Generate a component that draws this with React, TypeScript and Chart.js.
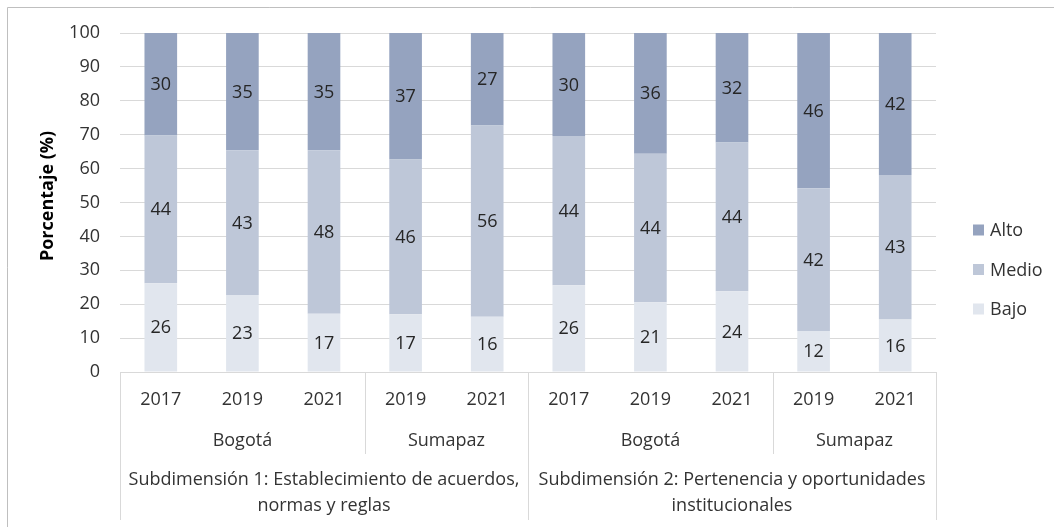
import React, { useEffect, useRef } from "react";
import { Chart, registerables } from "chart.js";

Chart.register(...registerables);

const categories = ["2017", "2019", "2021", "2019", "2021", "2017", "2019", "2021", "2019", "2021"];
const locationLabels = ["Bogotá", "Sumapaz", "Bogotá", "Sumapaz"];
const locationSpans = [3, 2, 3, 2];
const subdimensionLabels = [
  ["Subdimensión 1: Establecimiento de acuerdos,", "normas y reglas"],
  ["Subdimensión 2: Pertenencia y oportunidades", "institucionales"],
];
const subdimensionSpans = [5, 5];

const bajo = [26.2, 22.7, 17.2, 17.0, 16.3, 25.6, 20.6, 23.8, 12.1, 15.5];
const medio = [43.6, 42.7, 48.2, 45.7, 56.4, 44.0, 43.8, 43.9, 42.1, 42.6];
const alto = [30.2, 34.6, 34.6, 37.3, 27.3, 30.4, 35.6, 32.3, 45.8, 41.9];

const yTicks = [0, 10, 20, 30, 40, 50, 60, 70, 80, 90, 100];

const FONT = "'Open Sans', sans-serif";
const TEXT = "#333333";
const SEP = "#d9d9d9";

const customPlugin = {
  id: "custom",
  afterDatasetsDraw(chart: any) {
    const ctx = chart.ctx;
    ctx.save();
    ctx.font = `18px ${FONT}`;
    ctx.fillStyle = "#262626";
    ctx.textAlign = "center";
    ctx.textBaseline = "middle";
    chart.data.datasets.forEach((ds: any, di: number) => {
      const meta = chart.getDatasetMeta(di);
      meta.data.forEach((el: any, i: number) => {
        const v = ds.data[i];
        const y = (el.y + el.base) / 2;
        ctx.fillText(String(Math.round(v)), el.x, y + 1);
      });
    });
    ctx.restore();
  },
  afterDraw(chart: any) {
    const ctx = chart.ctx;
    const area = chart.chartArea;
    const xs = chart.scales.x;
    const n = categories.length;
    const boundary = (i: number) => {
      if (i <= 0) return area.left;
      if (i >= n) return area.right;
      return (xs.getPixelForValue(i - 1) + xs.getPixelForValue(i)) / 2;
    };
    const bottom = 520;
    const locBottom = 454;
    ctx.save();
    // outer frame (cropped)
    ctx.strokeStyle = "#bfbfbf";
    ctx.lineWidth = 1;
    ctx.beginPath();
    ctx.moveTo(7.5, chart.height);
    ctx.lineTo(7.5, 7.5);
    ctx.lineTo(chart.width, 7.5);
    ctx.stroke();

    // category separators
    ctx.strokeStyle = SEP;
    const vline = (x: number, y2: number) => {
      const xx = Math.round(x) + 0.5;
      ctx.beginPath();
      ctx.moveTo(xx, area.bottom);
      ctx.lineTo(xx, y2);
      ctx.stroke();
    };
    vline(area.left, bottom);
    vline(area.right, bottom);
    let idx = 0;
    locationSpans.forEach((s) => {
      idx += s;
      if (idx < n) vline(boundary(idx), locBottom);
    });
    idx = 0;
    subdimensionSpans.forEach((s) => {
      idx += s;
      if (idx < n) vline(boundary(idx), bottom);
    });

    // labels
    ctx.fillStyle = TEXT;
    ctx.font = `18px ${FONT}`;
    ctx.textAlign = "center";
    ctx.textBaseline = "middle";
    categories.forEach((c, i) => {
      ctx.fillText(c, xs.getPixelForValue(i), 400);
    });
    idx = 0;
    locationLabels.forEach((l, k) => {
      const a = boundary(idx);
      idx += locationSpans[k];
      const b = boundary(idx);
      ctx.fillText(l, (a + b) / 2, 441);
    });
    idx = 0;
    subdimensionLabels.forEach((lines, k) => {
      const a = boundary(idx);
      idx += subdimensionSpans[k];
      const b = boundary(idx);
      lines.forEach((t, j) => {
        ctx.fillText(t, (a + b) / 2, 480 + j * 26);
      });
    });

    // y axis title
    ctx.save();
    ctx.translate(48, 196);
    ctx.rotate(-Math.PI / 2);
    ctx.font = `bold 18px ${FONT}`;
    ctx.fillStyle = "#000000";
    ctx.fillText("Porcentaje (%)", 0, 0);
    ctx.restore();

    // legend (reversed)
    const ds = chart.data.datasets.slice().reverse();
    ctx.textAlign = "left";
    ctx.font = `18px ${FONT}`;
    ds.forEach((d: any, k: number) => {
      const cy = 230 + k * 39.5;
      ctx.fillStyle = d.backgroundColor;
      ctx.fillRect(973, cy - 5.5, 11, 11);
      ctx.fillStyle = TEXT;
      ctx.fillText(d.label, 990, cy + 1);
    });
    ctx.restore();
  },
};

export default function App() {
  const ref = useRef<HTMLCanvasElement | null>(null);
  useEffect(() => {
    document.body.style.margin = "0";
    const canvas = ref.current!;
    const chart = new Chart(canvas, {
      type: "bar",
      data: {
        labels: categories,
        datasets: [
          { label: "Bajo", data: bajo, backgroundColor: "#e1e6ee" },
          { label: "Medio", data: medio, backgroundColor: "#bec7d8" },
          { label: "Alto", data: alto, backgroundColor: "#95a3bf" },
        ],
      },
      options: {
        animation: false,
        responsive: false,
        devicePixelRatio: 1,
        layout: { padding: { top: 33, right: 118, left: 0, bottom: 0 } },
        datasets: { bar: { barPercentage: 0.4, categoryPercentage: 1 } },
        plugins: { legend: { display: false }, tooltip: { enabled: false } },
        scales: {
          x: {
            stacked: true,
            grid: { display: false },
            border: { display: false },
            ticks: { display: false },
            afterFit: (s: any) => {
              s.height = 155;
            },
          },
          y: {
            stacked: true,
            min: 0,
            max: 100,
            afterBuildTicks: (s: any) => {
              s.ticks = yTicks.map((v) => ({ value: v }));
            },
            grid: { color: SEP, drawTicks: false, lineWidth: 1 },
            border: { display: false },
            ticks: {
              padding: 20,
              color: TEXT,
              font: { family: FONT, size: 18 },
            },
            afterFit: (s: any) => {
              s.width = 120;
            },
          },
        },
      },
      plugins: [customPlugin],
    });
    return () => chart.destroy();
  }, []);
  return (
    <canvas
      ref={ref}
      width={1054}
      height={527}
      style={{ display: "block", width: 1054, height: 527 }}
    />
  );
}
